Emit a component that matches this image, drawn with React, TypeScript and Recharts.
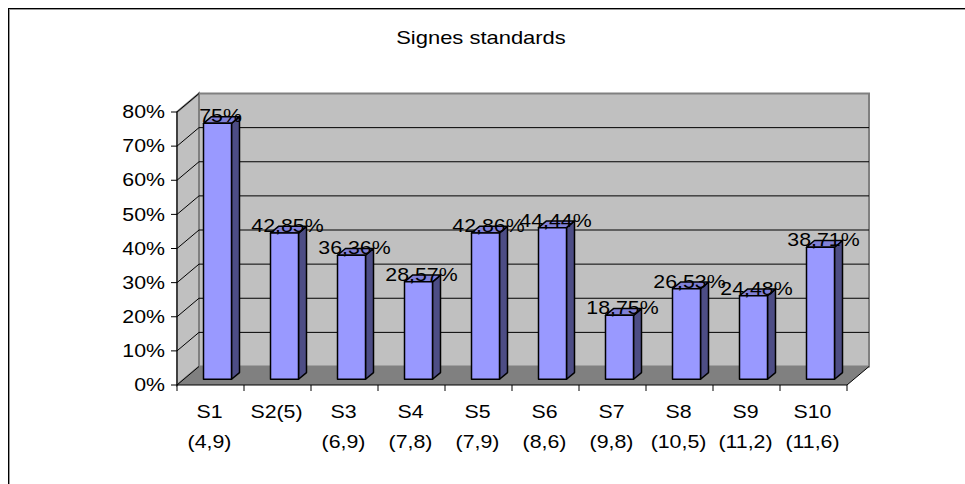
import React from 'react';
import { BarChart, Bar, XAxis, YAxis, Customized, LabelList } from 'recharts';

const title = 'Signes standards';
const categoriesTop = ['S1', 'S2(5)', 'S3', 'S4', 'S5', 'S6', 'S7', 'S8', 'S9', 'S10'];
const categoriesBottom = ['(4,9)', '', '(6,9)', '(7,8)', '(7,9)', '(8,6)', '(9,8)', '(10,5)', '(11,2)', '(11,6)'];
const values = [75, 42.85, 36.36, 28.57, 42.86, 44.44, 18.75, 26.53, 24.48, 38.71];
const yTicks = [0, 10, 20, 30, 40, 50, 60, 70, 80];

const data = categoriesTop.map((c, i) => ({ name: c, sub: categoriesBottom[i], value: values[i] }));

const W = 965;
const H = 484;
const PL = 177;
const PR = 847;
const PT = 112;
const PB = 385;
const DEPTH_X = 22;
const DEPTH_Y = 18.5;
const BAR_SX = 6.5;
const BAR_SY = 5.7;
const BAR_DX = 8;
const BAR_DY = 6.7;
const FONT = '"Liberation Sans", Arial, sans-serif';
const FS = 17.5;
const SX = 1.22;

const fmt = (v: number) => (Number.isInteger(v) ? String(v) : v.toFixed(2).replace('.', ',')) + '%';

const SText = (p: { x: number; y: number; anchor?: string; size?: number; dy?: string; children: any }) => (
  <text
    transform={`translate(${p.x},${p.y}) scale(${SX},1)`}
    x={0}
    y={0}
    dy={p.dy}
    textAnchor={(p.anchor || 'middle') as any}
    fontFamily={FONT}
    fontSize={p.size || FS}
    fill="#000"
  >
    {p.children}
  </text>
);

const Walls = () => {
  const yMax = yTicks[yTicks.length - 1];
  const yOf = (v: number) => PB - (v / yMax) * (PB - PT);
  return (
    <g>
      <SText x={481} y={44} size={18}>{title}</SText>
      <rect x={PL + DEPTH_X} y={PT - DEPTH_Y} width={PR - PL} height={PB - PT} fill="#C0C0C0" stroke="#808080" strokeWidth={2} />
      <polygon
        points={`${PL},${PB} ${PL},${PT} ${PL + DEPTH_X},${PT - DEPTH_Y} ${PL + DEPTH_X},${PB - DEPTH_Y}`}
        fill="#C0C0C0" stroke="#808080" strokeWidth={2}
      />
      <polygon
        points={`${PL},${PB} ${PR},${PB} ${PR + DEPTH_X},${PB - DEPTH_Y} ${PL + DEPTH_X},${PB - DEPTH_Y}`}
        fill="#808080" stroke="none"
      />
      <line x1={PR} y1={PB} x2={PR + DEPTH_X} y2={PB - DEPTH_Y} stroke="#000" strokeWidth={1} />
      {yTicks.map((t) => {
        const y = yOf(t);
        return (
          <g key={t}>
            {t > 0 && t < yMax && (
              <line x1={PL + DEPTH_X} y1={y - DEPTH_Y} x2={PR + DEPTH_X} y2={y - DEPTH_Y} stroke="#000" strokeWidth={1} />
            )}
            <line x1={PL} y1={y} x2={PL + DEPTH_X} y2={y - DEPTH_Y} stroke="#000" strokeWidth={1} />
          </g>
        );
      })}
    </g>
  );
};

const Bar3D = (props: any) => {
  const { x, y, width, height } = props;
  if (width == null || height == null) return null;
  const fx = x + BAR_SX;
  const fy = y - BAR_SY;
  const w = width;
  const h = height;
  return (
    <g stroke="#000" strokeWidth={1.5} strokeLinejoin="round">
      <polygon
        points={`${fx + w},${fy} ${fx + w + BAR_DX},${fy - BAR_DY} ${fx + w + BAR_DX},${fy + h - BAR_DY} ${fx + w},${fy + h}`}
        fill="#4D4D85"
      />
      <polygon
        points={`${fx},${fy} ${fx + BAR_DX},${fy - BAR_DY} ${fx + w + BAR_DX},${fy - BAR_DY} ${fx + w},${fy}`}
        fill="#8080D8"
      />
      <rect x={fx} y={fy} width={w} height={h} fill="#9999FF" />
    </g>
  );
};

const BarLabel = (props: any) => {
  const { x, y, width, value } = props;
  return (
    <SText x={x + width / 2 + BAR_SX + BAR_DX / 2 - 1} y={y - BAR_SY - 1}>
      {fmt(value)}
    </SText>
  );
};

const XTick = (props: any) => {
  const { x, payload, index } = props;
  const band = (PR - PL) / values.length;
  const i = index ?? categoriesTop.indexOf(payload.value);
  return (
    <g>
      <line x1={x - band / 2} y1={PB} x2={x - band / 2} y2={PB + 6} stroke="#000" />
      {i === values.length - 1 && <line x1={x + band / 2} y1={PB} x2={x + band / 2} y2={PB + 6} stroke="#000" />}
      <SText x={x - 1} y={418}>{payload.value}</SText>
      <SText x={x - 1} y={448}>{categoriesBottom[i]}</SText>
    </g>
  );
};

const YTick = (props: any) => {
  const { x, y, payload } = props;
  return (
    <SText x={x} y={y} anchor="end" dy="0.355em">
      {`${payload.value}%`}
    </SText>
  );
};

export default function App() {
  return (
    <div style={{ position: 'absolute', left: 0, top: 0, width: W, height: H, background: '#fff', overflow: 'hidden' }}>
      <div
        style={{
          position: 'absolute', left: 8, top: 8, width: W, height: H,
          borderLeft: '1px solid #000', borderTop: '1px solid #000',
          boxShadow: 'inset 1px 1px 0 #999',
        }}
      />
      <div style={{ position: 'absolute', left: 0, top: 0 }}>
        <BarChart width={W} height={H} data={data} margin={{ top: PT, right: W - PR, bottom: 0, left: 0 }}>
          <Customized component={<Walls />} />
          <XAxis
            dataKey="name"
            interval={0}
            height={H - PB}
            tickLine={false}
            axisLine={{ stroke: '#000', strokeWidth: 1 }}
            tick={<XTick />}
          />
          <YAxis
            width={PL}
            domain={[0, 80]}
            ticks={yTicks}
            tickSize={6}
            tickMargin={6}
            axisLine={{ stroke: '#000', strokeWidth: 1 }}
            tickLine={{ stroke: '#000' }}
            tick={<YTick />}
          />
          <Bar dataKey="value" barSize={28} shape={<Bar3D />} isAnimationActive={false}>
            <LabelList dataKey="value" content={<BarLabel />} />
          </Bar>
        </BarChart>
      </div>
    </div>
  );
}
